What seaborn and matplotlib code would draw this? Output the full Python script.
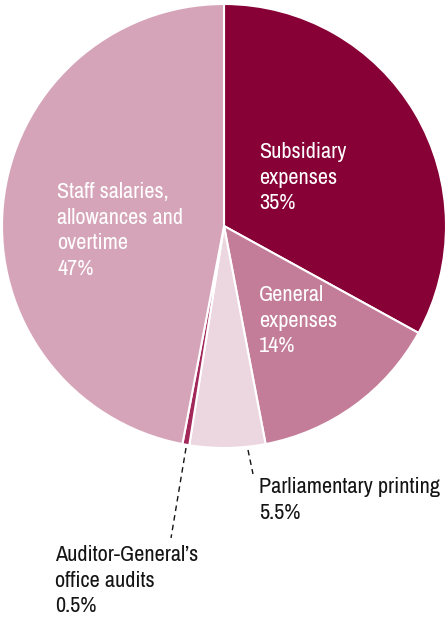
import matplotlib
matplotlib.use("Agg")
import matplotlib.pyplot as plt
import seaborn as sns

categories = ["Subsidiary expenses", "General expenses", "Parliamentary printing",
              "Auditor-General's office audits", "Staff salaries, allowances and overtime"]
shares = [33, 14, 5.5, 0.5, 47]
label_texts = ["Subsidiary\nexpenses\n35%", "General\nexpenses\n14%",
               "Parliamentary printing\n5.5%", "Auditor-General\u2019s\noffice audits\n0.5%",
               "Staff salaries,\nallowances and\novertime\n47%"]
colors = ["#870036", "#c47d99", "#ecd7e0", "#a3285a", "#d6a4b8"]

sns.set_theme(style="white")
plt.rcParams['font.family'] = ['Archivo Narrow', 'DejaVu Sans']
plt.rcParams['font.stretch'] = 'condensed'

W, H = 446, 623
fig = plt.figure(figsize=(W / 100, H / 100), dpi=100)
ax = fig.add_axes([0, 0, 1, 1])

cx, cy, r = 224, H - 226, 222
ax.pie(shares, colors=colors, startangle=90, counterclock=False,
       center=(cx, cy), radius=r, frame=True,
       wedgeprops=dict(edgecolor="white", linewidth=1.5))
ax.set_xlim(0, W)
ax.set_ylim(0, H)
ax.set_aspect("equal")
ax.axis("off")

fs = 16
ls = 1.35
ink = "#141414"
# labels inside the wedges (y = top of the text block)
ax.text(259, H - 142, label_texts[0], color="white", fontsize=fs, va="top", ha="left", linespacing=ls)
ax.text(259, H - 285, label_texts[1], color="white", fontsize=fs, va="top", ha="left", linespacing=ls)
ax.text(57, H - 182, label_texts[4], color="white", fontsize=fs, va="top", ha="left", linespacing=ls)

# labels outside with dashed leaders
ax.text(259, H - 477, label_texts[2], color=ink, fontsize=fs, va="top", ha="left", linespacing=ls)
ax.text(55, H - 545, label_texts[3], color=ink, fontsize=fs, va="top", ha="left", linespacing=ls)
ax.plot([248, 253], [H - 450, H - 474], ls=(0, (4, 3)), color=ink, lw=1)
ax.plot([186, 171], [H - 448, H - 538], ls=(0, (4, 3)), color=ink, lw=1)

fig.savefig("out.png", dpi=100)
